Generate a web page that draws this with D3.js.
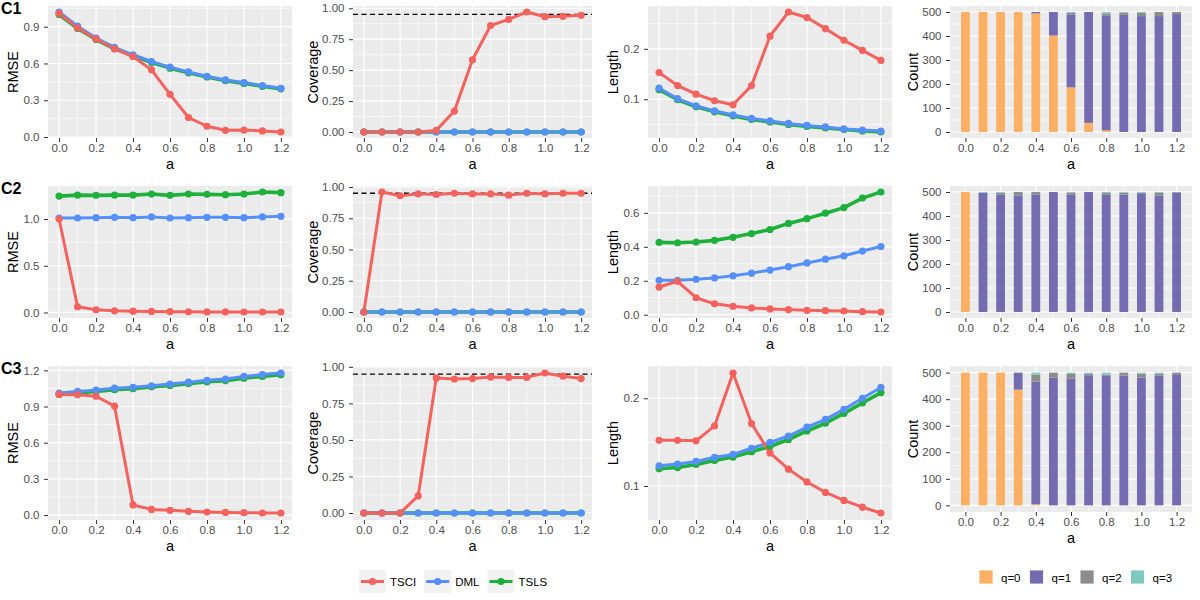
<!DOCTYPE html>
<html>
<head>
<meta charset="utf-8">
<script src="https://cdn.jsdelivr.net/npm/d3@7"></script>
<style>
body { margin: 0; background: #fff; }
text { font-family: "Liberation Sans", Arial, sans-serif; }
</style>
</head>
<body>
<svg id="chart" width="1200" height="600"></svg>
<script>
// values
var aVals = [0, 0.1, 0.2, 0.3, 0.4, 0.5, 0.6, 0.7, 0.8, 0.9, 1.0, 1.1, 1.2];
var methods = ["TSCI", "DML", "TSLS"];
var qLevels = ["q=0", "q=1", "q=2", "q=3"];
var caseNames = ["C1", "C2", "C3"];
var xTicks = [0, 0.2, 0.4, 0.6, 0.8, 1.0, 1.2];

// each block: [TSCI, DML, TSLS]
var rmseC1 = [
  [1.008, 0.89, 0.80, 0.72, 0.657, 0.548, 0.348, 0.159, 0.088, 0.055, 0.057, 0.05, 0.041],
  [1.02, 0.904, 0.808, 0.731, 0.671, 0.616, 0.57, 0.531, 0.496, 0.466, 0.444, 0.42, 0.398],
  [1.0, 0.885, 0.795, 0.72, 0.662, 0.607, 0.562, 0.524, 0.49, 0.46, 0.437, 0.414, 0.393]
];
var covC1 = [
  [0, 0, 0, 0, 0.013, 0.169, 0.584, 0.861, 0.91, 0.97, 0.932, 0.935, 0.943],
  [0, 0, 0, 0, 0, 0, 0, 0, 0, 0, 0, 0, 0],
  [0, 0, 0, 0, 0, 0, 0, 0, 0, 0, 0, 0, 0]
];
var lenC1 = [
  [0.153, 0.127, 0.110, 0.097, 0.089, 0.127, 0.225, 0.273, 0.262, 0.24, 0.217, 0.197, 0.177],
  [0.122, 0.101, 0.087, 0.077, 0.069, 0.062, 0.057, 0.052, 0.048, 0.045, 0.041, 0.039, 0.037],
  [0.119, 0.099, 0.085, 0.075, 0.067, 0.060, 0.055, 0.050, 0.046, 0.043, 0.040, 0.037, 0.035]
];
var rmseC2 = [
  [1.0, 0.061, 0.029, 0.018, 0.014, 0.011, 0.008, 0.007, 0.006, 0.006, 0.005, 0.005, 0.005],
  [1.011, 1.011, 1.014, 1.018, 1.014, 1.022, 1.011, 1.014, 1.018, 1.018, 1.014, 1.022, 1.029],
  [1.245, 1.256, 1.253, 1.256, 1.256, 1.267, 1.253, 1.267, 1.264, 1.26, 1.267, 1.289, 1.282]
];
var covC2 = [
  [0, 0.96, 0.93, 0.945, 0.94, 0.95, 0.945, 0.945, 0.935, 0.95, 0.945, 0.95, 0.95],
  [0, 0, 0, 0, 0, 0, 0, 0, 0, 0, 0, 0, 0],
  [0, 0, 0, 0, 0, 0, 0, 0, 0, 0, 0, 0, 0]
];
var lenC2 = [
  [0.163, 0.197, 0.1, 0.064, 0.05, 0.04, 0.034, 0.03, 0.026, 0.024, 0.022, 0.018, 0.016],
  [0.203, 0.203, 0.209, 0.217, 0.229, 0.245, 0.263, 0.283, 0.305, 0.327, 0.347, 0.375, 0.402],
  [0.426, 0.424, 0.428, 0.438, 0.456, 0.478, 0.502, 0.538, 0.566, 0.598, 0.631, 0.687, 0.723]
];
var rmseC3 = [
  [1.0, 0.998, 0.985, 0.903, 0.084, 0.047, 0.039, 0.031, 0.025, 0.022, 0.02, 0.017, 0.017],
  [1.012, 1.025, 1.037, 1.052, 1.06, 1.072, 1.086, 1.102, 1.117, 1.128, 1.15, 1.165, 1.178],
  [1.0, 1.013, 1.025, 1.04, 1.048, 1.063, 1.075, 1.09, 1.105, 1.115, 1.135, 1.15, 1.163]
];
var covC3 = [
  [0, 0, 0, 0.117, 0.924, 0.917, 0.92, 0.93, 0.928, 0.928, 0.958, 0.936, 0.92],
  [0, 0, 0, 0, 0, 0, 0, 0, 0, 0, 0, 0, 0],
  [0, 0, 0, 0, 0, 0, 0, 0, 0, 0, 0, 0, 0]
];
var lenC3 = [
  [0.152, 0.152, 0.1515, 0.1685, 0.2288, 0.1712, 0.1377, 0.1192, 0.1046, 0.0927, 0.0835, 0.0758, 0.0692],
  [0.123, 0.125, 0.128, 0.1327, 0.136, 0.143, 0.1496, 0.157, 0.167, 0.176, 0.1873, 0.2, 0.2123],
  [0.1196, 0.121, 0.1246, 0.129, 0.133, 0.139, 0.145, 0.153, 0.1627, 0.1715, 0.1827, 0.1946, 0.2065]
];

// each block: [q=0, q=1, q=2, q=3]
var countC1 = [
  [500, 500, 500, 500, 494, 402, 186, 38, 7, 0, 0, 0, 0],
  [0, 0, 0, 0, 6, 98, 304, 462, 479, 488, 483, 483, 492],
  [0, 0, 0, 0, 0, 0, 6, 0, 8, 10, 13, 17, 8],
  [0, 0, 0, 0, 0, 0, 4, 0, 6, 2, 4, 0, 0]
];
var countC2 = [
  [500, 0, 0, 0, 0, 0, 0, 0, 0, 0, 0, 0, 0],
  [0, 497, 490, 486, 490, 500, 490, 500, 490, 489, 495, 486, 497],
  [0, 0, 7, 14, 10, 0, 8, 0, 6, 8, 2, 10, 3],
  [0, 3, 3, 0, 0, 0, 2, 0, 4, 3, 3, 4, 0]
];
var countC3 = [
  [500, 500, 500, 436, 4, 0, 0, 0, 0, 0, 0, 0, 0],
  [0, 0, 0, 64, 462, 481, 477, 490, 490, 489, 481, 489, 494],
  [0, 0, 0, 0, 26, 19, 18, 6, 3, 11, 15, 7, 6],
  [0, 0, 0, 0, 8, 0, 5, 4, 7, 0, 4, 4, 0]
];

var rmseTicks = [[0, 0.3, 0.6, 0.9], [0, 0.5, 1.0], [0, 0.3, 0.6, 0.9, 1.2]];
var covTicks = [0, 0.25, 0.5, 0.75, 1.0];
var lenTicks = [[0.1, 0.2], [0, 0.2, 0.4, 0.6], [0.1, 0.2]];
var countTicks = [0, 100, 200, 300, 400, 500];
var nominal = 0.95;

var methodColors = ["#F4625E", "#5590FA", "#1DB03A"];
var qColors = ["#FDB064", "#756BB1", "#8C8C8C", "#7FC9BF"];

var svg = d3.select("#chart");
var panelBg = "#EBEBEB";
var tickColor = "#4D4D4D";
var lineW = 3, ptR = 3.6;

// panel boxes
var colX = [[48, 292], [353, 592], [648, 892], [950, 1192]];
var rowTop = [6, 186, 366];
var rowBottomLines = [138, 318, 520];
var rowBottomBars = [138, 318, 512];

function minorBreaks(ticks, dom) {
  var step = ticks[1] - ticks[0], out = [];
  for (var i = -1; i < ticks.length; i++) {
    var v = ticks[0] + step * (i + 0.5);
    if (v > dom[0] && v < dom[1]) out.push(v);
  }
  return out;
}

function styleAxis(ax) {
  ax.select(".domain").remove();
  ax.selectAll(".tick line").attr("stroke", "#333333").attr("stroke-width", 1);
  ax.selectAll(".tick text").attr("fill", tickColor).style("font-size", "11.5px");
}

function frame(g, x, y, yTicks, yFmt, yTitle, plotLeft) {
  var l = x.range()[0], r = x.range()[1], b = y.range()[0], t = y.range()[1];
  g.append("rect").attr("x", l).attr("y", t).attr("width", r - l).attr("height", b - t)
    .attr("fill", panelBg);
  var xMinor = minorBreaks(xTicks, x.domain());
  var yMinor = minorBreaks(yTicks, y.domain());
  g.selectAll(".xmin").data(xMinor).enter().append("line")
    .attr("x1", x).attr("x2", x).attr("y1", t).attr("y2", b)
    .attr("stroke", "#fff").attr("stroke-width", 0.6);
  g.selectAll(".ymin").data(yMinor).enter().append("line")
    .attr("x1", l).attr("x2", r).attr("y1", y).attr("y2", y)
    .attr("stroke", "#fff").attr("stroke-width", 0.6);
  g.selectAll(".xmaj").data(xTicks).enter().append("line")
    .attr("x1", x).attr("x2", x).attr("y1", t).attr("y2", b)
    .attr("stroke", "#fff").attr("stroke-width", 1.2);
  g.selectAll(".ymaj").data(yTicks).enter().append("line")
    .attr("x1", l).attr("x2", r).attr("y1", y).attr("y2", y)
    .attr("stroke", "#fff").attr("stroke-width", 1.2);

  var ay = g.append("g").attr("transform", "translate(" + l + ",0)")
    .call(d3.axisLeft(y).tickValues(yTicks).tickFormat(yFmt).tickSize(4).tickPadding(4.5));
  styleAxis(ay);
  var ax = g.append("g").attr("transform", "translate(0," + b + ")")
    .call(d3.axisBottom(x).tickValues(xTicks).tickFormat(d3.format(".1f")).tickSize(4).tickPadding(1.5));
  styleAxis(ax);

  g.append("text").attr("x", (l + r) / 2).attr("y", b + 31).attr("text-anchor", "middle")
    .style("font-size", "14.5px").attr("fill", "#000").text("a");
  g.append("text")
    .attr("transform", "translate(" + (plotLeft + 17.5) + "," + ((t + b) / 2) + ") rotate(-90)")
    .attr("text-anchor", "middle").style("font-size", "14.5px").attr("fill", "#000").text(yTitle);
}

function linePanel(col, row, series, yTicks, yFmt, yTitle, hline) {
  var l = colX[col][0], r = colX[col][1], t = rowTop[row], b = rowBottomLines[row];
  var vals = d3.merge(series);
  if (hline !== undefined) vals.push(hline);
  var ext = d3.extent(vals), pad = (ext[1] - ext[0]) * 0.05;
  var x = d3.scaleLinear().domain([-0.06, 1.26]).range([l, r]);
  var y = d3.scaleLinear().domain([ext[0] - pad, ext[1] + pad]).range([b, t]);
  var g = svg.append("g");
  frame(g, x, y, yTicks, yFmt, yTitle, col * 300);

  var clip = "clip" + col + "_" + row;
  g.append("clipPath").attr("id", clip).append("rect")
    .attr("x", l).attr("y", t).attr("width", r - l).attr("height", b - t);
  var inner = g.append("g").attr("clip-path", "url(#" + clip + ")");

  if (hline !== undefined) {
    inner.append("line").attr("x1", l).attr("x2", r).attr("y1", y(hline)).attr("y2", y(hline))
      .attr("stroke", "#000").attr("stroke-width", 1.3).attr("stroke-dasharray", "5,3.5");
  }
  var line = d3.line().x(function (d, i) { return x(aVals[i]); }).y(function (d) { return y(d); });
  var order = [2, 1, 0];
  order.forEach(function (m) {
    inner.append("path").datum(series[m]).attr("d", line).attr("fill", "none")
      .attr("stroke", methodColors[m]).attr("stroke-width", m === 2 ? lineW + 0.6 : lineW)
      .attr("stroke-linejoin", "round");
  });
  order.forEach(function (m) {
    inner.selectAll(".pt" + m).data(series[m]).enter().append("circle")
      .attr("cx", function (d, i) { return x(aVals[i]); }).attr("cy", function (d) { return y(d); })
      .attr("r", ptR).attr("fill", methodColors[m]);
  });
}

function barPanel(row, counts) {
  var l = colX[3][0], r = colX[3][1], t = rowTop[row], b = rowBottomBars[row];
  var x = d3.scaleLinear().domain([-0.0875, 1.2875]).range([l, r]);
  var y = d3.scaleLinear().domain([-25, 525]).range([b, t]);
  var g = svg.append("g");
  frame(g, x, y, countTicks, d3.format("d"), "Count", 900);

  var rows = aVals.map(function (a, i) {
    var o = { a: a };
    qLevels.forEach(function (q, k) { o[q] = counts[k][i]; });
    return o;
  });
  var stacked = d3.stack().keys(qLevels)(rows);
  var bw = x(0.05) - x(0);
  stacked.forEach(function (layer, k) {
    g.selectAll(".bar" + k).data(layer).enter().append("rect")
      .attr("x", function (d) { return x(d.data.a) - bw / 2; })
      .attr("width", bw)
      .attr("y", function (d) { return y(d[1]); })
      .attr("height", function (d) { return y(d[0]) - y(d[1]); })
      .attr("fill", qColors[k]);
  });
}

var rmseData = [rmseC1, rmseC2, rmseC3];
var covData = [covC1, covC2, covC3];
var lenData = [lenC1, lenC2, lenC3];
var countData = [countC1, countC2, countC3];
var f1 = d3.format(".1f"), f2 = d3.format(".2f");

for (var r = 0; r < 3; r++) {
  linePanel(0, r, rmseData[r], rmseTicks[r], f1, "RMSE");
  linePanel(1, r, covData[r], covTicks, f2, "Coverage", nominal);
  linePanel(2, r, lenData[r], lenTicks[r], f1, "Length");
  barPanel(r, countData[r]);
  svg.append("text").attr("x", 1).attr("y", 14 + r * 180)
    .style("font-size", "16px").style("font-weight", "bold").attr("fill", "#000")
    .text(caseNames[r]);
}

// method legend
var lg = svg.append("g");
var lx = 359;
methods.forEach(function (m, i) {
  lg.append("rect").attr("x", lx).attr("y", 570).attr("width", 27).attr("height", 23).attr("fill", "#F2F2F2");
  lg.append("line").attr("x1", lx + 2).attr("x2", lx + 25).attr("y1", 581.5).attr("y2", 581.5)
    .attr("stroke", methodColors[i]).attr("stroke-width", lineW);
  lg.append("circle").attr("cx", lx + 13.5).attr("cy", 581.5).attr("r", ptR).attr("fill", methodColors[i]);
  var tx = lg.append("text").attr("x", lx + 31).attr("y", 585.5).style("font-size", "11.5px")
    .attr("fill", "#000").text(m);
  lx += 31 + tx.node().getComputedTextLength() + 8;
});

// q legend
var qg = svg.append("g");
var qx = 979;
qLevels.forEach(function (q, i) {
  qg.append("rect").attr("x", qx).attr("y", 570).attr("width", 14).attr("height", 14)
    .attr("fill", qColors[i]).attr("stroke", "#fff").attr("stroke-width", 0.8);
  var tx = qg.append("text").attr("x", qx + 22).attr("y", 581.5).style("font-size", "11.5px")
    .attr("fill", "#000").text(q);
  qx += 22 + tx.node().getComputedTextLength() + 9;
});
</script>
</body>
</html>
